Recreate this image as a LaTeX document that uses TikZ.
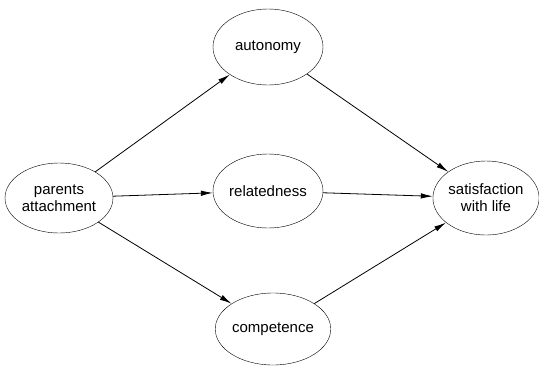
\documentclass[tikz,border=0pt]{standalone}
\usepackage{fontspec}
\setmainfont{Liberation Sans}
\usetikzlibrary{shapes.geometric,arrows.meta}
\begin{document}
\begin{tikzpicture}[x=1pt,y=-1pt,
    var/.style={draw,ellipse,inner sep=0pt,minimum width=110pt,minimum height=74pt,align=center,font=\fontsize{15}{17}\selectfont},
    arr/.style={-{Latex[length=12pt,width=5.5pt]},line width=0.8pt}]
    \useasboundingbox (0,0) rectangle (539,368);
    \node[var,minimum width=108pt,minimum height=70pt] (par) at (59,198) {parents\\attachment};
    \node[var,minimum height=76pt] (aut) at (268,47) {autonomy};
    \node[var] (rel) at (268,191) {relatedness};
    \node[var,minimum height=72pt] (com) at (273,329) {competence};
    \node[var,minimum width=102pt,minimum height=74pt] (sat) at (486,198) {satisfaction\\with life};
    \draw[arr] (par) -- (aut);
    \draw[arr] (par) -- (rel);
    \draw[arr] (par) -- (com);
    \draw[arr] (aut) -- (sat);
    \draw[arr] (rel) -- (sat);
    \draw[arr] (com) -- (sat);
\end{tikzpicture}
\end{document}
